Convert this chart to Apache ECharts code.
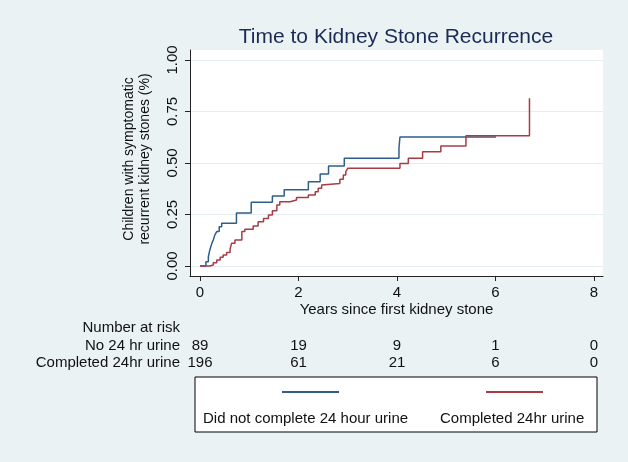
<!DOCTYPE html>
<html><head><meta charset="utf-8">
<script src="https://cdn.jsdelivr.net/npm/echarts@6/dist/echarts.min.js"></script>
<style>html,body{margin:0;padding:0;background:#eaf2f3}#c{width:628px;height:462px}</style>
</head><body><div id="c"></div>
<script>
// ---- data ----
const titleText = 'Time to Kidney Stone Recurrence';
const xAxisTitle = 'Years since first kidney stone';
const yAxisTitle = 'Children with symptomatic\nrecurrent kidney stones (%)';
const seriesNames = ['Did not complete 24 hour urine', 'Completed 24hr urine'];

const noUrineTimes  = [0, 0.12, 0.17, 0.20, 0.24, 0.27, 0.30, 0.34, 0.39, 0.44, 0.74, 1.04, 1.47, 1.71, 2.20, 2.44, 2.61, 2.93, 4.04, 4.06, 6.01];
const noUrineValues = [0, 0.021, 0.045, 0.078, 0.110, 0.126, 0.150, 0.167, 0.191, 0.207, 0.257, 0.310, 0.340, 0.370, 0.409, 0.447, 0.485, 0.523, 0.573, 0.626, 0.626];

const completedTimes  = [0, 0.20, 0.27, 0.34, 0.41, 0.47, 0.54, 0.61, 0.64, 0.71, 0.85, 0.91, 1.08, 1.18, 1.29, 1.39, 1.47, 1.56, 1.62, 1.83, 1.96, 2.20, 2.34, 2.40, 2.47, 2.50, 2.84, 2.91, 2.96, 3.00, 4.06, 4.23, 4.52, 4.89, 5.40, 6.69];
const completedValues = [0, 0.005, 0.016, 0.029, 0.042, 0.053, 0.065, 0.081, 0.110, 0.126, 0.167, 0.178, 0.194, 0.215, 0.231, 0.248, 0.268, 0.296, 0.312, 0.320, 0.333, 0.345, 0.361, 0.377, 0.393, 0.401, 0.421, 0.442, 0.458, 0.474, 0.497, 0.523, 0.555, 0.583, 0.632, 0.814];

const xTicks = [0, 2, 4, 6, 8];
const yTicks = [0, 0.25, 0.5, 0.75, 1];
const yTickLabels = ['0.00', '0.25', '0.50', '0.75', '1.00'];

const riskTitle = 'Number at risk';
const riskRowNames = ['No 24 hr urine', 'Completed 24hr urine'];
const riskTimes = [0, 2, 4, 6, 8];
const riskNoUrine = [89, 19, 9, 1, 0];
const riskCompleted = [196, 61, 21, 6, 0];

// ---- chart ----
const FONT = '"Liberation Sans", Arial, Helvetica, sans-serif';
const TXT = '#111';
const colors = ['#2f5e8b', '#a63c44'];

const ctx = document.createElement('canvas').getContext('2d');
ctx.font = '15px "Liberation Sans"';
const w1 = ctx.measureText(seriesNames[0]).width;
const w2 = ctx.measureText(seriesNames[1]).width;

const xMin = -0.203, xMax = 8.183, yMin = -0.0485, yMax = 1.0485;

function riskAxis(offset, name, values) {
  return {
    type: 'value', gridIndex: 0, position: 'bottom', offset: offset,
    min: xMin, max: xMax,
    name: name, nameLocation: 'start', nameGap: 10,
    nameTextStyle: { fontFamily: FONT, fontSize: 15, color: TXT },
    axisLine: { show: false, onZero: false }, axisTick: { show: false }, splitLine: { show: false },
    axisLabel: values ? {
      show: true, customValues: riskTimes, margin: 0, verticalAlign: 'middle',
      fontFamily: FONT, fontSize: 15, color: TXT,
      formatter: v => String(values[riskTimes.indexOf(v)])
    } : { show: false }
  };
}

const chart = echarts.init(document.getElementById('c'), null, { renderer: 'canvas' });
chart.setOption({
  animation: false,
  backgroundColor: '#eaf2f3',
  title: {
    text: titleText, left: 391, top: 22, textAlign: 'center',
    textStyle: { fontFamily: FONT, fontSize: 21, fontWeight: 'normal', color: '#1a2a55' }
  },
  grid: {
    left: 190, right: 25, top: 50, bottom: 186,
    show: true, backgroundColor: '#ffffff', borderWidth: 0,
    outerBoundsMode: 'none', containLabel: false
  },
  legend: [
    {
      data: seriesNames, left: 195, top: 377, orient: 'horizontal',
      padding: [34, 157 - w2, 5, 3],
      itemWidth: 0, itemHeight: 0, icon: 'none', itemGap: 232 - w1,
      backgroundColor: '#ffffff', borderColor: '#000000', borderWidth: 1,
      textStyle: { fontFamily: FONT, fontSize: 15, color: TXT, lineHeight: 16 },
      selectedMode: false, z: 4
    },
    {
      data: seriesNames, left: 282, top: 391, padding: 0,
      itemWidth: 57, itemHeight: 2, icon: 'rect', itemGap: 147,
      formatter: () => '', selectedMode: false, z: 6,
      textStyle: { fontSize: 1 }
    }
  ],
  xAxis: [
    {
      type: 'value', gridIndex: 0, min: xMin, max: xMax,
      name: xAxisTitle, nameLocation: 'middle', nameGap: 26,
      nameTextStyle: { fontFamily: FONT, fontSize: 15, color: TXT },
      axisLine: { show: true, onZero: false, lineStyle: { color: '#222', width: 1 } },
      axisTick: { show: true, customValues: xTicks, length: 5, lineStyle: { color: '#222' } },
      axisLabel: { customValues: xTicks, margin: 9, fontFamily: FONT, fontSize: 15, color: TXT },
      splitLine: { show: false }
    },
    riskAxis(52, riskTitle, null),
    riskAxis(70, riskRowNames[0], riskNoUrine),
    riskAxis(87, riskRowNames[1], riskCompleted)
  ],
  yAxis: {
    type: 'value', min: yMin, max: yMax,
    name: yAxisTitle, nameLocation: 'middle', nameGap: 37, nameRotate: 90,
    nameTextStyle: { fontFamily: FONT, fontSize: 14, color: TXT, lineHeight: 16, align: 'center', padding: [0, 0, 0, 8] },
    axisLine: { show: true, onZero: false, lineStyle: { color: '#222', width: 1 } },
    axisTick: { show: true, customValues: yTicks, length: 5, lineStyle: { color: '#222' } },
    axisLabel: {
      customValues: yTicks, rotate: 90, margin: 10, fontFamily: FONT, fontSize: 15, color: TXT,
      formatter: v => yTickLabels[yTicks.indexOf(v)] ?? v.toFixed(2)
    },
    splitLine: { show: true, lineStyle: { color: '#e3edf0', width: 1 } }
  },
  series: [
    {
      name: seriesNames[0], type: 'line', step: 'end', showSymbol: false, symbol: 'none',
      xAxisIndex: 0, yAxisIndex: 0,
      data: noUrineTimes.map((t, i) => [t, noUrineValues[i]]),
      itemStyle: { color: colors[0] }, lineStyle: { color: colors[0], width: 1.5 }, z: 2
    },
    {
      name: seriesNames[1], type: 'line', step: 'end', showSymbol: false, symbol: 'none',
      xAxisIndex: 0, yAxisIndex: 0,
      data: completedTimes.map((t, i) => [t, completedValues[i]]),
      itemStyle: { color: colors[1] }, lineStyle: { color: colors[1], width: 1.5 }, z: 3
    }
  ]
});
</script></body></html>
